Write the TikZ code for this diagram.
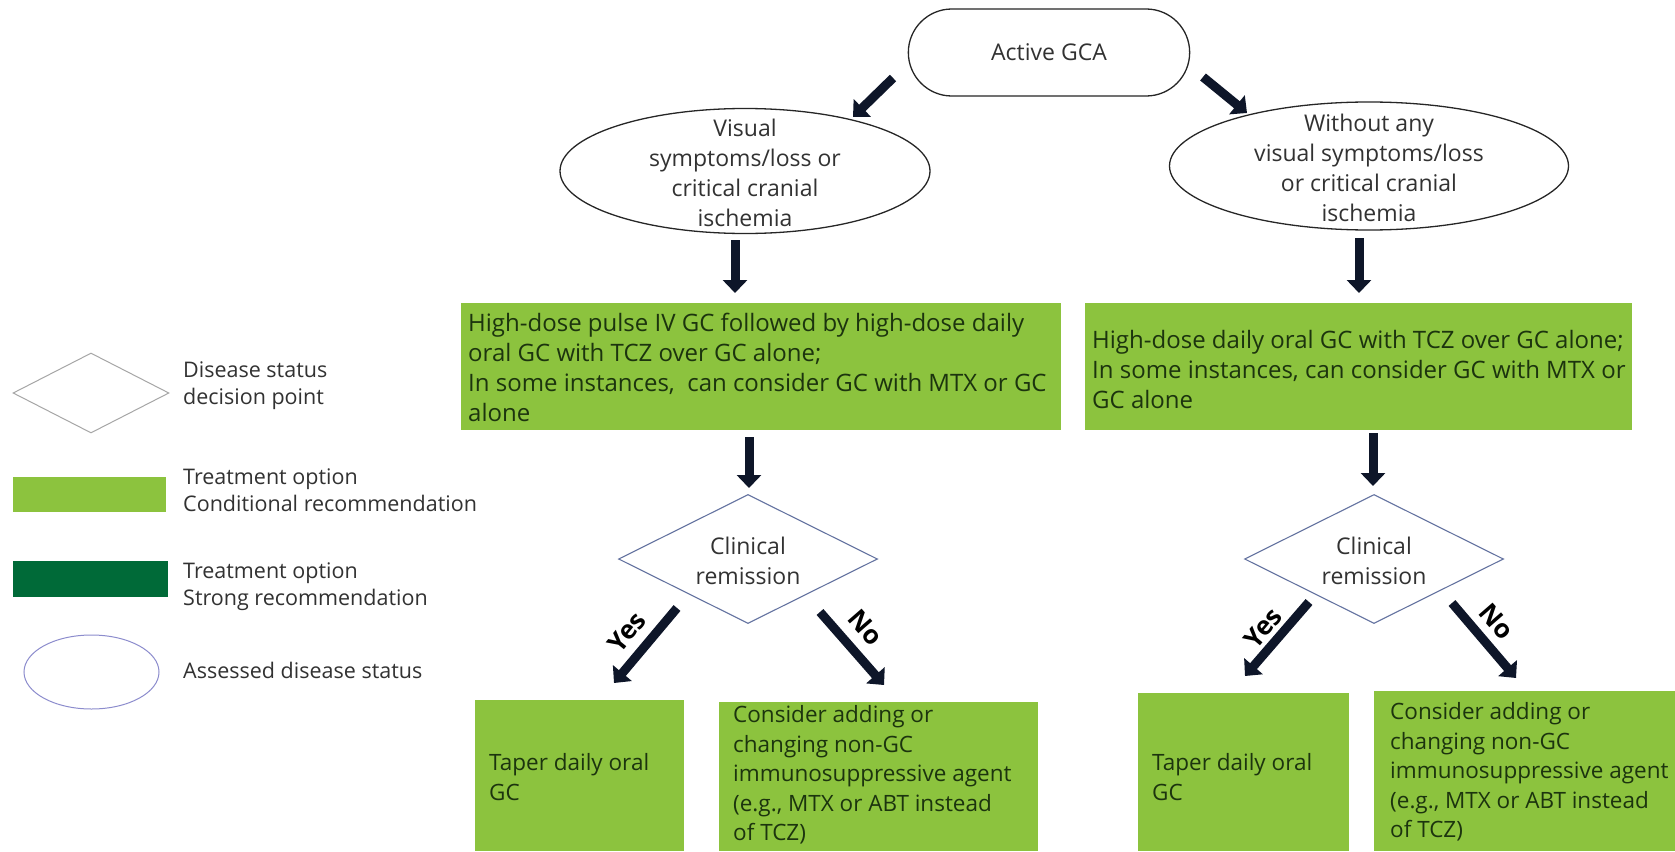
\documentclass[tikz,border=0pt]{standalone}
\usepackage{fontspec}
\setmainfont{Open Sans}
\usetikzlibrary{shapes.geometric,shapes.misc,arrows.meta}
\definecolor{lg}{RGB}{140,195,62}
\definecolor{dg}{RGB}{0,106,56}
\definecolor{txtg}{RGB}{28,52,14}
\definecolor{arr}{RGB}{14,22,41}
\definecolor{dialine}{RGB}{100,115,160}
\definecolor{txtgray}{RGB}{50,50,50}
\definecolor{legell}{RGB}{140,140,205}
\begin{document}
\begin{tikzpicture}[x=1pt,y=-1pt,
  stad/.style={rounded rectangle, draw=black!85, line width=1.3pt, minimum width=288pt, minimum height=87pt, font=\fontsize{23}{30}\selectfont, text=txtgray},
  ell/.style={ellipse, draw=black!85, line width=1.3pt, inner sep=0pt},
  etext/.style={align=center, font=\fontsize{23}{30}\selectfont, text=txtgray, inner sep=0pt},
  gbox/.style={fill=lg, inner sep=0pt},
  gtext/.style={anchor=west, align=left, font=\fontsize{24}{30}\selectfont, text=txtg, inner sep=0pt},
  btext/.style={anchor=west, align=left, font=\fontsize{22.5}{29.5}\selectfont, text=txtg, inner sep=0pt},
  dia/.style={diamond, draw=dialine, line width=1.1pt, inner sep=0pt},
  dtext/.style={align=center, font=\fontsize{23}{30}\selectfont, text=txtgray, inner sep=0pt},
  legtext/.style={anchor=west, align=left, font=\fontsize{21.5}{27}\selectfont, text=txtgray, inner sep=0pt},
  bigarr/.style={draw=arr, line width=9pt, -{Triangle[width=24pt,length=13pt]}},
  lab/.style={font=\bfseries\fontsize{26}{28}\selectfont, text=black, inner sep=0pt}
]
\useasboundingbox (0,0) rectangle (1675,851);
\fill[white] (0,0) rectangle (1675,851);

% top
\node[stad] (gca) at (1049,52.5) {Active GCA};

\node[ell, minimum width=370pt, minimum height=125pt] (vis) at (745,171) {};
\node[etext] (vistext) at (745,173) {Visual\\symptoms/loss or\\critical cranial\\ischemia};
\node[ell, minimum width=399pt, minimum height=128pt] (novis) at (1369,166) {};
\node[etext] (novistext) at (1369,168) {Without any\\visual symptoms/loss\\or critical cranial\\ischemia};

% treatment boxes
\node[gbox, minimum width=600pt, minimum height=127pt] (box1) at (760.5,366.5) {};
\node[gtext] (box1t) at (468,367) {High-dose pulse IV GC followed by high-dose daily\\oral GC with TCZ over GC alone;\\In some instances,\ \ can consider GC with MTX or GC\\alone};
\node[gbox, minimum width=547pt, minimum height=127pt] (box2) at (1358.5,366.5) {};
\node[gtext] (box2t) at (1092,369) {High-dose daily oral GC with TCZ over GC alone;\\In some instances, can consider GC with MTX or\\GC alone};

% diamonds
\node[dia, minimum width=259pt, minimum height=129pt] (d1) at (748,559) {};
\node[dtext] (d1t) at (748,561) {Clinical\\remission};
\node[dia, minimum width=259pt, minimum height=129pt] (d2) at (1374,559) {};
\node[dtext] (d2t) at (1374,561) {Clinical\\remission};

% bottom boxes
\node[gbox, minimum width=209pt, minimum height=151pt] (t1) at (579.5,775.5) {};
\node[btext] (t1t) at (489,777) {Taper daily oral\\GC};
\node[gbox, minimum width=319pt, minimum height=149pt] (c1) at (878.5,776.5) {};
\node[btext] (c1t) at (733,775) {Consider adding or\\changing non-GC\\immunosuppressive agent\\(e.g., MTX or ABT instead\\of TCZ)};
\node[gbox, minimum width=211pt, minimum height=158pt] (t2) at (1243.5,772) {};
\node[btext] (t2t) at (1152,777) {Taper daily oral\\GC};
\node[gbox, minimum width=316pt, minimum height=160pt] (c2) at (1532,771) {};
\node[btext] (c2t) at (1390,772) {Consider adding or\\changing non-GC\\immunosuppressive agent\\(e.g., MTX or ABT instead\\of TCZ)};

% arrows
\coordinate (a1s) at (893,78);  \coordinate (a1e) at (853,117);
\coordinate (a2s) at (1203,77); \coordinate (a2e) at (1247,113);
\coordinate (a3s) at (735,240); \coordinate (a3e) at (735,293);
\coordinate (a4s) at (1359,238); \coordinate (a4e) at (1359,293);
\coordinate (a5s) at (749,437); \coordinate (a5e) at (749,488);
\coordinate (a6s) at (1373,433); \coordinate (a6e) at (1373,486);
\coordinate (a7s) at (677,608); \coordinate (a7e) at (614,683);
\coordinate (a8s) at (820,612); \coordinate (a8e) at (884,685);
\coordinate (a9s) at (1309,602); \coordinate (a9e) at (1245,676);
\coordinate (a10s) at (1452,603); \coordinate (a10e) at (1516,678);
\draw[bigarr] (a1s) -- (a1e);
\draw[bigarr] (a2s) -- (a2e);
\draw[bigarr] (a3s) -- (a3e);
\draw[bigarr] (a4s) -- (a4e);
\draw[bigarr] (a5s) -- (a5e);
\draw[bigarr] (a6s) -- (a6e);
\draw[bigarr] (a7s) -- (a7e);
\draw[bigarr] (a8s) -- (a8e);
\draw[bigarr] (a9s) -- (a9e);
\draw[bigarr] (a10s) -- (a10e);

\node[lab, rotate=51] (yes1) at (627,632) {Yes};
\node[lab, rotate=-49] (no1) at (866,628) {No};
\node[lab, rotate=50] (yes2) at (1263,628) {Yes};
\node[lab, rotate=-49] (no2) at (1497,622) {No};

% legend
\node[dia, draw=gray!70, line width=1pt, minimum width=156pt, minimum height=80pt] (ldia) at (91,393) {};
\node[legtext] (ldiat) at (183,386) {Disease status\\decision point};
\node[gbox, minimum width=153pt, minimum height=35pt] (llg) at (89.5,494.5) {};
\node[legtext] (llgt) at (183,490) {Treatment option\\Conditional recommendation};
\node[fill=dg, inner sep=0pt, minimum width=155pt, minimum height=36pt] (ldg) at (90.5,579) {};
\node[legtext] (ldgt) at (183,587) {Treatment option\\Strong recommendation};
\node[ellipse, draw=legell, line width=1pt, inner sep=0pt, minimum width=135pt, minimum height=74pt] (lell) at (91.5,672) {};
\node[legtext] (lellt) at (183,670) {Assessed disease status};
\end{tikzpicture}
\end{document}
